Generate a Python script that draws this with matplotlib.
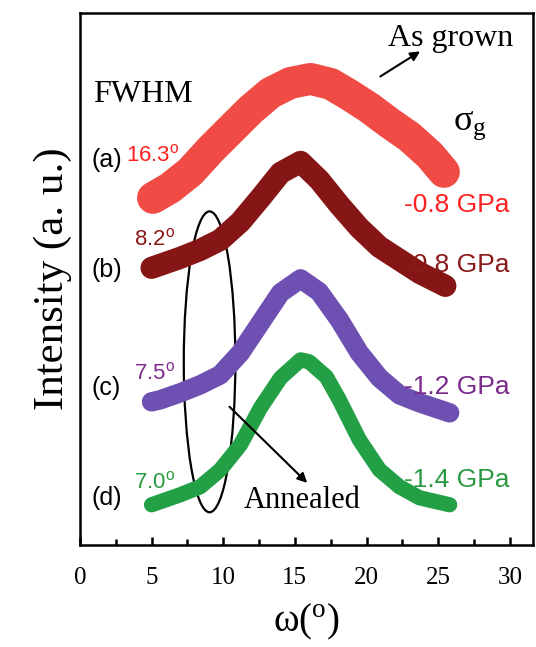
import matplotlib.pyplot as plt
from matplotlib.patches import Ellipse

plt.rcParams['mathtext.fontset'] = 'custom'
plt.rcParams['mathtext.rm'] = 'Liberation Serif'
plt.rcParams['mathtext.sf'] = 'Liberation Sans'

# omega (deg) and intensity (a.u.)
w_a = [5.1, 6.3, 7.7, 9.1, 10.5, 11.9, 13.3, 14.7, 16.1, 17.5, 18.8, 20.2, 21.6, 23.0, 24.4, 25.4]
i_a = [34.7, 35.7, 37.3, 39.5, 41.5, 43.5, 45.2, 46.2, 46.6, 46.1, 45.0, 43.7, 42.2, 40.8, 39.0, 37.3]

w_b = [5.0, 5.6, 7.0, 8.4, 9.8, 11.2, 12.6, 14.0, 15.4, 16.7, 18.1, 19.5, 20.9, 22.3, 23.7, 25.5]
i_b = [27.7, 28.0, 28.7, 29.5, 30.5, 32.3, 34.7, 37.2, 38.3, 36.5, 34.0, 31.7, 29.8, 28.5, 27.2, 25.9]

w_c = [5.0, 5.6, 7.0, 8.4, 9.8, 11.2, 12.6, 14.0, 15.4, 16.7, 18.1, 19.5, 20.9, 22.3, 23.7, 25.8]
i_c = [14.3, 14.5, 15.2, 16.0, 17.0, 19.2, 22.2, 25.2, 26.6, 25.3, 22.5, 19.2, 16.7, 15.0, 14.2, 13.2]

w_d = [5.0, 5.6, 7.0, 8.4, 9.8, 11.2, 12.6, 14.0, 15.4, 16.0, 17.2, 18.1, 19.5, 20.9, 22.3, 23.7, 25.8]
i_d = [4.0, 4.3, 5.0, 5.8, 7.5, 10.0, 13.7, 16.7, 18.5, 18.3, 16.8, 14.5, 10.5, 7.5, 5.8, 4.7, 4.0]

labels = ['(a)', '(b)', '(c)', '(d)']
fwhm = ['16.3', '8.2', '7.5', '7.0']
stress = ['-0.8 GPa', '-0.8 GPa', '-1.2 GPa', '-1.4 GPa']
colors = ['#f04b45', '#861515', '#6e50b2', '#23a045']
txt_colors = ['#ff2020', '#8a1a1a', '#7a2a8c', '#2a9a40']
widths = [23, 16, 14, 11]

fig = plt.figure(figsize=(5.36, 6.47), dpi=100)
ax = fig.add_axes([0.149, 0.158, 0.845, 0.822])

for w, i, c, lw in zip([w_a, w_b, w_c, w_d], [i_a, i_b, i_c, i_d], colors, widths):
    ax.plot(w, i, color=c, lw=lw, solid_capstyle='round', solid_joinstyle='round')

# labels on the left and right of each curve
lab_y = [38.5, 27.5, 15.7, 4.7]
fw_y = [38.9, 30.5, 17.1, 6.2]
st_y = [34.0, 28.0, 15.8, 6.5]
fw_x = [3.2, 3.8, 3.75, 3.75]
for k in range(4):
    ax.text(0.8, lab_y[k], labels[k], fontsize=18, family='Liberation Sans',
            va='center', ha='left', color='black')
    ax.text(fw_x[k], fw_y[k], fwhm[k] + r'$^{\mathsf{o}}$', fontsize=16,
            family='Liberation Sans', va='center', ha='left', color=txt_colors[k])
    ax.text(22.6, st_y[k], stress[k], fontsize=19, family='Liberation Sans',
            va='center', ha='left', color=txt_colors[k])

ax.text(0.9, 45.0, 'FWHM', fontsize=23, family='Liberation Serif', va='center')
ax.text(26.0, 42.0, r'$\mathrm{\sigma_{g}}$', fontsize=26, va='center')
ax.text(21.5, 50.6, 'As grown', fontsize=23, family='Liberation Serif', va='center')
ax.text(11.4, 4.4, 'Annealed', fontsize=22, family='Liberation Serif', va='center')

ax.annotate('', xy=(23.9, 49.5), xytext=(20.8, 46.7),
            arrowprops=dict(arrowstyle='-|>', color='black', lw=1.5, mutation_scale=14))
ax.annotate('', xy=(16.0, 6.0), xytext=(10.3, 14.0),
            arrowprops=dict(arrowstyle='-|>', color='black', lw=1.5, mutation_scale=14))

ax.add_patch(Ellipse((9.05, 18.3), 3.6, 30.1, fill=False, edgecolor='black', lw=1.6))

ax.set_xlim(0, 31.6)
ax.set_ylim(0, 53.2)
ax.set_xticks([0, 5, 10, 15, 20, 25, 30])
ax.set_xticks([2.5, 7.5, 12.5, 17.5, 22.5, 27.5], minor=True)
ax.set_yticks([])
ax.tick_params(axis='x', which='major', direction='in', length=6, width=1.8,
               labelsize=18, pad=16)
ax.tick_params(axis='x', which='minor', direction='in', length=4, width=1.8)
for lab in ax.get_xticklabels():
    lab.set_family('Liberation Serif')
for s in ax.spines.values():
    s.set_linewidth(1.8)

ax.set_xlabel(r'$\mathrm{\omega(^{o})}$', fontsize=28, labelpad=9)
ax.set_ylabel('Intensity (a. u.)', fontsize=31, family='Liberation Serif', labelpad=6)

fig.savefig('out.png', dpi=100)
